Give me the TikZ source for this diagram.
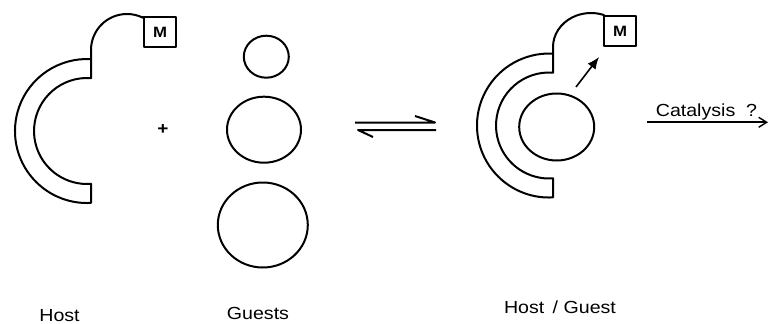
\documentclass[tikz,border=0pt]{standalone}
\usepackage{fontspec}
\setmainfont{Liberation Sans}[FakeStretch=1.12]
\usetikzlibrary{arrows.meta,shapes.geometric}
\begin{document}
\begin{tikzpicture}[x=1pt,y=-1pt,line width=2pt,line join=round,
  mbox/.style={draw,line width=1.8pt,minimum width=32pt,minimum height=30pt,inner sep=0pt,
    font=\fontsize{15}{15}\selectfont\bfseries},
  guest/.style={draw,ellipse,inner sep=0pt},
  lbl/.style={anchor=base,inner sep=0pt,font=\fontsize{17.5}{17.5}\selectfont}]
\fill[white] (0,0) rectangle (769,324);
\useasboundingbox (0,0) rectangle (769,324);
% ---------- Host (left) ----------
\node[mbox] (mL) at (160,32) {M};
\draw (91,50) -- (91,{131-52.85})
  arc[start angle=-85.7,end angle=-274.3,radius=53]
  -- (91,{131+71.9})
  arc[start angle=86.8,end angle=273.2,radius=72]
  -- (91,50)
  arc[start angle=180,end angle=296,radius=36] -- (mL.north west);
\node[font=\fontsize{17}{17}\selectfont\bfseries,inner sep=0pt] (plus) at (163,130) {+};
% ---------- Guests ----------
\node[guest,minimum width=45pt,minimum height=42pt] (g1) at (266.3,56.7) {};
\node[guest,minimum width=74pt,minimum height=66pt] (g2) at (264,129.7) {};
\node[guest,minimum width=90pt,minimum height=85pt] (g3) at (262.8,225) {};
% ---------- equilibrium ----------
\coordinate (eqA) at (355,122.5);
\coordinate (eqB) at (435,122.5);
\coordinate (eqBb) at (415,116);
\coordinate (eqC) at (436,130);
\coordinate (eqD) at (358,130);
\coordinate (eqDb) at (373,137);
\draw (eqA) -- (eqB) -- (eqBb);
\draw (eqC) -- (eqD) -- (eqDb);
% ---------- Host / Guest ----------
\node[mbox] (mR) at (620,31) {M};
\draw (553,47) -- (553,{125.5-52.85})
  arc[start angle=-85.7,end angle=-274.3,radius=53]
  -- (553,{125.5+71.9})
  arc[start angle=86.8,end angle=273.2,radius=72]
  -- (553,47)
  arc[start angle=180,end angle=290,x radius=38,y radius=34] -- (mR.north west);
\node[guest,minimum width=75pt,minimum height=67pt] (hg) at (556.7,127) {};
\coordinate (arS) at (576,87);
\coordinate (arE) at (599,57);
\draw[line width=1.6pt,-{Latex[length=12pt,width=10pt]}] (arS) -- (arE);
% ---------- Catalysis ----------
\coordinate (cA) at (647,122.3);
\coordinate (cB) at (768,122.3);
\draw[line width=1.8pt,-{Straight Barb[length=8pt,width=10pt,line width=1.4pt]}] (cA) -- (cB);
\node[lbl] (cat) at (706.5,116.7) {Catalysis\ \ ?};
% ---------- labels ----------
\node[lbl] (lHost) at (59.5,321) {Host};
\node[lbl] (lGuests) at (258,319) {Guests};
\node[lbl] (lHG) at (560,313) {Host \,/ Guest};
\end{tikzpicture}
\end{document}
